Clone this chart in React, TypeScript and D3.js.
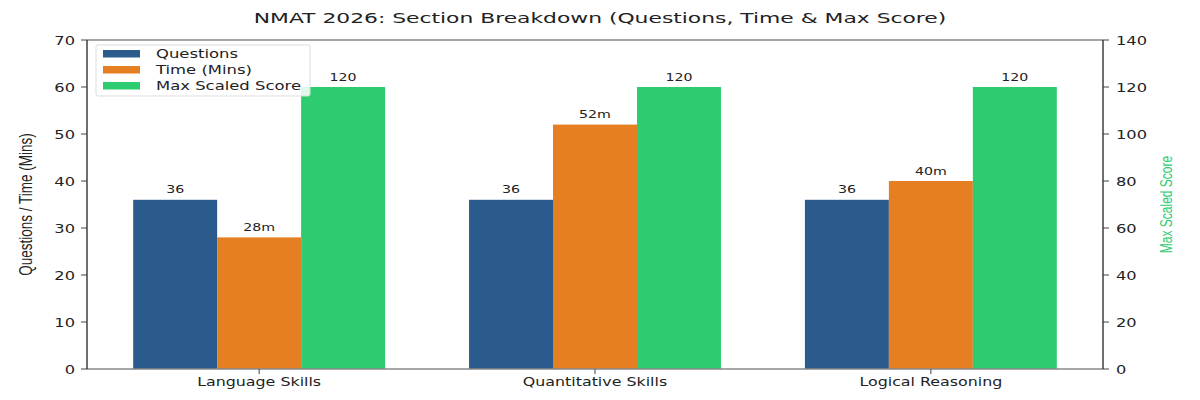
import React from 'react';
import * as d3 from 'd3';

const categories = ['Language Skills', 'Quantitative Skills', 'Logical Reasoning'];
const questions = [36, 36, 36];
const timeMins = [28, 52, 40];
const maxScore = [120, 120, 120];
const leftTicks = [0, 10, 20, 30, 40, 50, 60, 70];
const rightTicks = [0, 20, 40, 60, 80, 100, 120, 140];
const seriesNames = ['Questions', 'Time (Mins)', 'Max Scaled Score'];
const seriesColors = ['#2b5b8c', '#e67e22', '#2ecc71'];

const W = 1200;
const H = 400;
const margin = { top: 40, right: 97, bottom: 31, left: 87 };
const SX = 1.3; // picture is stretched horizontally
const FONT = 'DejaVu Sans, sans-serif';
const NARROW = 'Liberation Sans Narrow, Liberation Sans, sans-serif';

function SText({ x, y, size, anchor = 'start', fill = '#222', family = FONT, rotate = 0, sx = SX, children }: any) {
  return (
    <text
      transform={`translate(${x},${y}) scale(${sx},1)${rotate ? ` rotate(${rotate})` : ''}`}
      textAnchor={anchor}
      fontSize={size}
      fontFamily={family}
      fill={fill}
    >
      {children}
    </text>
  );
}

export default function App() {
  const x0 = margin.left;
  const x1 = W - margin.right;
  const y0 = H - margin.bottom;
  const y1 = margin.top;
  const barW = 0.25;

  const x = d3.scaleLinear().domain([-0.5125, 2.5125]).range([x0, x1]);
  const yL = d3.scaleLinear().domain([0, 70]).range([y0, y1]);
  const yR = d3.scaleLinear().domain([0, 140]).range([y0, y1]);

  const series = [
    { name: seriesNames[0], values: questions, scale: yL, offset: -barW, fmt: (v: number) => `${v}` },
    { name: seriesNames[1], values: timeMins, scale: yL, offset: 0, fmt: (v: number) => `${v}m` },
    { name: seriesNames[2], values: maxScore, scale: yR, offset: barW, fmt: (v: number) => `${v}` },
  ];

  return (
    <svg width={W} height={H} style={{ position: 'absolute', left: 0, top: 0, background: '#fff' }}>
      {/* bars */}
      {series.map((s, si) => (
        <g key={s.name}>
          {s.values.map((v, i) => {
            const bx = x(i + s.offset - barW / 2);
            const bw = x(i + s.offset + barW / 2) - bx;
            return (
              <g key={i}>
                <rect x={bx} y={s.scale(v)} width={bw} height={y0 - s.scale(v)} fill={seriesColors[si]} />
                <SText x={bx + bw / 2} y={s.scale(v) - 6.5} size={10.5} anchor="middle" sx={1.35}>
                  {s.fmt(v)}
                </SText>
              </g>
            );
          })}
        </g>
      ))}

      {/* spines */}
      <line x1={x0} x2={x1} y1={y1} y2={y1} stroke="#888" strokeWidth={1.5} />
      <line x1={x0} x2={x1} y1={y0} y2={y0} stroke="#888" strokeWidth={1.5} />
      <line x1={x0} x2={x0} y1={y1} y2={y0} stroke="#222" strokeWidth={1.3} />
      <line x1={x1} x2={x1} y1={y1} y2={y0} stroke="#222" strokeWidth={1.3} />

      {/* left axis */}
      {leftTicks.map((t) => (
        <g key={t}>
          <line x1={x0 - 6} x2={x0} y1={yL(t)} y2={yL(t)} stroke="#444" />
          <SText x={x0 - 12} y={yL(t) + 4.5} size={12.5} anchor="end">
            {t}
          </SText>
        </g>
      ))}
      {/* right axis */}
      {rightTicks.map((t) => (
        <g key={t}>
          <line x1={x1} x2={x1 + 6} y1={yR(t)} y2={yR(t)} stroke="#444" />
          <SText x={x1 + 13} y={yR(t) + 4.5} size={12.5}>
            {t}
          </SText>
        </g>
      ))}
      {/* x axis */}
      {categories.map((c, i) => (
        <g key={c}>
          <line x1={x(i)} x2={x(i)} y1={y0} y2={y0 + 5} stroke="#444" />
          <SText x={x(i)} y={y0 + 17} size={11.5} anchor="middle" sx={1.38}>
            {c}
          </SText>
        </g>
      ))}

      {/* axis titles */}
      <SText x={32} y={(y0 + y1) / 2} size={13.5} anchor="middle" family={NARROW} rotate={-90}>
        Questions / Time (Mins)
      </SText>
      <SText x={1172} y={(y0 + y1) / 2} size={12} anchor="middle" family={NARROW} rotate={-90} fill="#2ecc71">
        Max Scaled Score
      </SText>

      {/* title */}
      <SText x={600} y={23} size={14} anchor="middle" sx={1.56}>
        NMAT 2026: Section Breakdown (Questions, Time &amp; Max Score)
      </SText>

      {/* legend */}
      <g>
        <rect x={96} y={45} width={214} height={51} rx={2} fill="#fff" fillOpacity={0.85} stroke="#ddd" />
        {series.map((s, si) => (
          <g key={s.name}>
            <rect x={103} y={50 + si * 16} width={37} height={7.5} fill={seriesColors[si]} />
            <SText x={156} y={58 + si * 16} size={11.5} sx={1.43}>
              {s.name}
            </SText>
          </g>
        ))}
      </g>
    </svg>
  );
}
